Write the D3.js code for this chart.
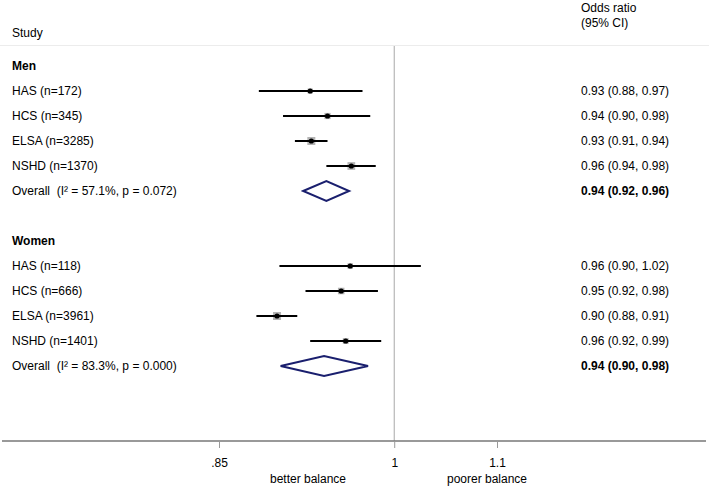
<!DOCTYPE html>
<html><head><meta charset="utf-8">
<script src="https://cdn.jsdelivr.net/npm/d3@7"></script>
<style>body{margin:0;background:#fff}svg{display:block;font-family:"Liberation Sans",Arial,sans-serif}</style>
</head><body><svg id="c" width="709" height="487"></svg>
<script>
// ---- data ----
const groups = ["Men", "Women"];
const studies = ["HAS (n=172)", "HCS (n=345)", "ELSA (n=3285)", "NSHD (n=1370)",
                 "HAS (n=118)", "HCS (n=666)", "ELSA (n=3961)", "NSHD (n=1401)"];
const studyGroup = ["Men","Men","Men","Men","Women","Women","Women","Women"];
const est   = [0.925, 0.940, 0.926, 0.961, 0.960, 0.952, 0.897, 0.956];
const lower = [0.882, 0.902, 0.912, 0.939, 0.899, 0.921, 0.880, 0.925];
const upper = [0.971, 0.978, 0.940, 0.983, 1.025, 0.985, 0.914, 0.988];
const weight = [12, 18, 30, 28, 14, 20, 30, 16];
const ciText = ["0.93 (0.88, 0.97)", "0.94 (0.90, 0.98)", "0.93 (0.91, 0.94)", "0.96 (0.94, 0.98)",
                "0.96 (0.90, 1.02)", "0.95 (0.92, 0.98)", "0.90 (0.88, 0.91)", "0.96 (0.92, 0.99)"];
const overallLabel = ["Overall  (I\u00B2 = 57.1%, p = 0.072)", "Overall  (I\u00B2 = 83.3%, p = 0.000)"];
const overallEst   = [0.939, 0.937];
const overallLower = [0.919, 0.900];
const overallUpper = [0.959, 0.976];
const overallText  = ["0.94 (0.92, 0.96)", "0.94 (0.90, 0.98)"];
const tickValues = [0.85, 1, 1.1];
const tickLabels = [".85", "1", "1.1"];
const sideLabels = ["better balance", "poorer balance"];

// ---- layout rows ----
const rows = [];
groups.forEach((g, gi) => {
  rows.push({type: "header", label: g});
  studies.forEach((s, i) => { if (studyGroup[i] === g) rows.push({type: "study", i}); });
  rows.push({type: "overall", gi});
  if (gi < groups.length - 1) rows.push({type: "blank"});
});
const nRows = 15;

const svg = d3.select("#c");
const x = d3.scaleLog().domain([0.85, 1.1]).range([219, 497]);
const y = d3.scaleLinear().domain([0, nRows]).range([66, 66 + nRows * 25]);
const axisY = y(nRows);
const size = d3.scaleSqrt().domain([0, 30]).range([0, 8]);
const fs = 12;

// header
svg.append("line").attr("x1", 0).attr("x2", 709).attr("y1", 45.5).attr("y2", 45.5)
  .attr("stroke", "#ececec").attr("stroke-width", 1);
svg.append("text").attr("x", 12).attr("y", 33).attr("dy", "0.35em").attr("font-size", fs).text("Study");
svg.append("text").attr("x", 581).attr("y", 8).attr("dy", "0.35em").attr("font-size", fs).text("Odds ratio");
svg.append("text").attr("x", 581).attr("y", 23).attr("dy", "0.35em").attr("font-size", fs).text("(95% CI)");

// reference line at 1
svg.append("line").attr("x1", x(1)).attr("x2", x(1)).attr("y1", 46).attr("y2", axisY)
  .attr("stroke", "#a8a8a8").attr("stroke-width", 1);

// rows
rows.forEach((r, ri) => {
  const yy = y(ri);
  if (r.type === "header") {
    svg.append("text").attr("x", 12).attr("y", yy).attr("dy", "0.35em")
      .attr("font-size", fs).attr("font-weight", "bold").text(r.label);
  } else if (r.type === "study") {
    const i = r.i;
    svg.append("text").attr("x", 12).attr("y", yy).attr("dy", "0.35em").attr("font-size", fs).text(studies[i]);
    svg.append("text").attr("x", 581).attr("y", yy).attr("dy", "0.35em").attr("font-size", fs).text(ciText[i]);
    const s = size(weight[i]);
    svg.append("rect").attr("x", x(est[i]) - s / 2).attr("y", yy - s / 2).attr("width", s).attr("height", s)
      .attr("fill", "#b4b4b4");
    svg.append("line").attr("x1", x(lower[i])).attr("x2", x(upper[i])).attr("y1", yy).attr("y2", yy)
      .attr("stroke", "#000").attr("stroke-width", 2);
    svg.append("circle").attr("cx", x(est[i])).attr("cy", yy).attr("r", 2.6).attr("fill", "#000");
  } else if (r.type === "overall") {
    const g = r.gi;
    svg.append("text").attr("x", 12).attr("y", yy).attr("dy", "0.35em").attr("font-size", fs)
      .attr("xml:space", "preserve").style("white-space", "pre").text(overallLabel[g]);
    svg.append("text").attr("x", 581).attr("y", yy).attr("dy", "0.35em").attr("font-size", fs)
      .attr("font-weight", "bold").text(overallText[g]);
    const pts = [[x(overallLower[g]), yy], [x(overallEst[g]), yy - 10], [x(overallUpper[g]), yy], [x(overallEst[g]), yy + 10]];
    svg.append("path").attr("d", d3.line()(pts) + "Z").attr("fill", "none")
      .attr("stroke", "#1a1f6e").attr("stroke-width", 2);
  }
});

// axis
const ax = svg.append("g").attr("transform", `translate(0,${axisY})`);
ax.append("line").attr("x1", 2).attr("x2", 706).attr("y1", 0).attr("y2", 0).attr("stroke", "#777").attr("stroke-width", 1.5);
const axis = d3.axisBottom(x).tickValues(tickValues).tickFormat((d, i) => tickLabels[i]).tickSize(7).tickPadding(10);
const ag = svg.append("g").attr("transform", `translate(0,${axisY})`).call(axis);
ag.select(".domain").remove();
ag.selectAll(".tick line").attr("stroke", "#999");
ag.selectAll(".tick text").attr("font-size", fs).attr("fill", "#000").attr("font-family", "Liberation Sans, Arial, sans-serif");

svg.append("text").attr("x", 308).attr("y", 479).attr("dy", "0.35em").attr("text-anchor", "middle").attr("font-size", fs).text(sideLabels[0]);
svg.append("text").attr("x", 487).attr("y", 479).attr("dy", "0.35em").attr("text-anchor", "middle").attr("font-size", fs).text(sideLabels[1]);
</script></body></html>
